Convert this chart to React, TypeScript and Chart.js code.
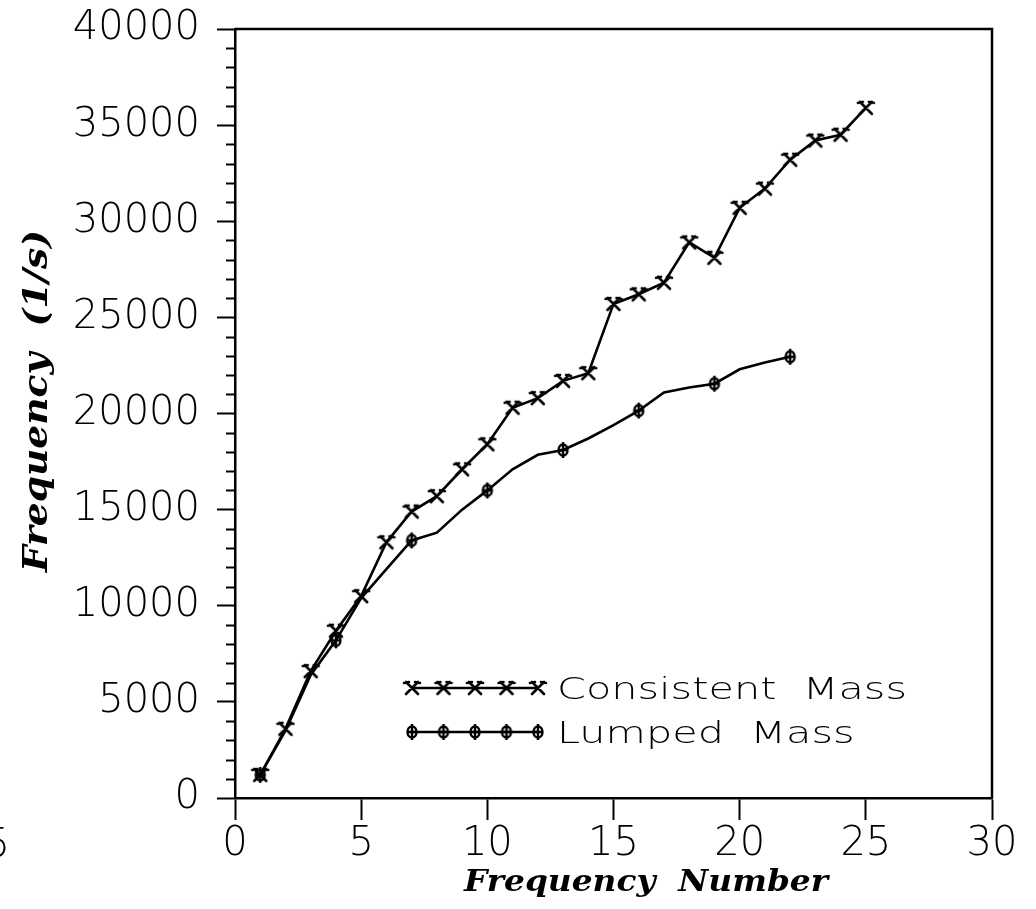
import React, { useEffect, useRef } from 'react';
import { Chart, registerables } from 'chart.js';

Chart.register(...registerables);

// ---- Data ----
const consistentNumbers = [1, 2, 3, 4, 5, 6, 7, 8, 9, 10, 11, 12, 13, 14, 15, 16, 17, 18, 19, 20, 21, 22, 23, 24, 25];
const consistentMass = [1200, 3600, 6600, 8700, 10500, 13300, 14900, 15700, 17100, 18400, 20300, 20800, 21700, 22100, 25700, 26200, 26800, 28900, 28100, 30700, 31700, 33200, 34200, 34500, 35900];

const lumpedNumbers = [1, 2, 3, 4, 5, 6, 7, 8, 9, 10, 11, 12, 13, 14, 15, 16, 17, 18, 19, 20, 21, 22];
const lumpedMass = [1200, 3500, 6400, 8200, 10400, 11900, 13400, 13800, 15000, 16000, 17100, 17850, 18100, 18700, 19400, 20150, 21100, 21350, 21550, 22300, 22650, 22950];
const lumpedMarkerStep = 3;

const seriesLabels = ['Consistent  Mass', 'Lumped  Mass'];
const xTitle = 'Frequency  Number';
const yTitle = 'Frequency  (1/s)';
const xMin = 0, xMax = 30, xStep = 5;
const yMin = 0, yMax = 40000, yStep = 5000, yMinorStep = 1000;
const strayLabel = '5';

const TICK_FONT = '"DejaVu Sans"';
const TITLE_FONT = '"DejaVu Serif"';

function makeCrossMarker(): HTMLCanvasElement {
  const c = document.createElement('canvas');
  c.width = 20; c.height = 20;
  const g = c.getContext('2d')!;
  g.strokeStyle = '#000';
  g.lineWidth = 2.6;
  g.lineCap = 'round';
  g.beginPath();
  g.moveTo(4, 4); g.lineTo(16, 16);
  g.moveTo(16, 4); g.lineTo(4, 16);
  g.moveTo(2, 5); g.lineTo(7, 4);
  g.moveTo(13, 4); g.lineTo(18, 5);
  g.stroke();
  return c;
}

function makeLumpedMarker(): HTMLCanvasElement {
  const c = document.createElement('canvas');
  c.width = 16; c.height = 18;
  const g = c.getContext('2d')!;
  g.strokeStyle = '#000';
  g.lineWidth = 2.4;
  g.beginPath();
  g.ellipse(8, 9, 4.5, 5.5, 0, 0, Math.PI * 2);
  g.stroke();
  g.beginPath();
  g.moveTo(8, 1); g.lineTo(8, 17);
  g.moveTo(3, 9); g.lineTo(13, 9);
  g.stroke();
  return c;
}

function drawStretched(ctx: CanvasRenderingContext2D, text: string, x: number, y: number, targetWidth: number, rotate: boolean) {
  const w = ctx.measureText(text).width;
  const sx = targetWidth / w;
  ctx.save();
  ctx.translate(x, y);
  if (rotate) ctx.rotate(-Math.PI / 2);
  ctx.scale(sx, 1);
  ctx.fillText(text, 0, 0);
  ctx.restore();
}

export default function App() {
  const ref = useRef<HTMLCanvasElement | null>(null);

  useEffect(() => {
    if (!ref.current) return;
    const crossImg = makeCrossMarker();
    const lumpImg = makeLumpedMarker();

    const decorations = {
      id: 'decorations',
      afterDraw(chart: any) {
        const { ctx, chartArea, scales } = chart;
        const ys = scales.y;
        ctx.save();
        ctx.strokeStyle = '#000';
        ctx.fillStyle = '#000';
        // minor y ticks
        ctx.lineWidth = 2;
        for (let v = yMin; v <= yMax; v += yMinorStep) {
          if (v % yStep === 0) continue;
          const py = Math.round(ys.getPixelForValue(v)) + 0.5;
          ctx.beginPath();
          ctx.moveTo(chartArea.left - 9, py);
          ctx.lineTo(chartArea.left, py);
          ctx.stroke();
        }
        // frame top and right
        ctx.lineWidth = 2.5;
        ctx.beginPath();
        ctx.moveTo(chartArea.left, chartArea.top);
        ctx.lineTo(chartArea.right, chartArea.top);
        ctx.lineTo(chartArea.right, chartArea.bottom);
        ctx.stroke();

        // legend
        const items = [
          { img: crossImg, y: 688, label: chart.data.datasets[0].label },
          { img: lumpImg, y: 732, label: chart.data.datasets[1].label },
        ];
        const lx0 = 412, lx1 = 538;
        ctx.font = `200 30px ${TICK_FONT}`;
        const legendScale = 350 / ctx.measureText(items[0].label).width;
        items.forEach((it) => {
          ctx.lineWidth = 2.5;
          ctx.beginPath();
          ctx.moveTo(lx0, it.y);
          ctx.lineTo(lx1, it.y);
          ctx.stroke();
          for (let i = 0; i < 5; i++) {
            const px = lx0 + ((lx1 - lx0) * i) / 4;
            ctx.drawImage(it.img, px - it.img.width / 2, it.y - it.img.height / 2);
          }
          ctx.font = `200 30px ${TICK_FONT}`;
          ctx.textAlign = 'left';
          ctx.textBaseline = 'alphabetic';
          drawStretched(ctx, it.label, 557, it.y + 11, ctx.measureText(it.label).width * legendScale, false);
        });

        // axis titles
        ctx.font = `italic bold 30px ${TITLE_FONT}`;
        ctx.textAlign = 'left';
        ctx.textBaseline = 'alphabetic';
        drawStretched(ctx, xTitle, 464, 891, 364, false);
        ctx.font = `italic bold 34px ${TITLE_FONT}`;
        drawStretched(ctx, yTitle, 47, 572, 342, true);

        // stray clipped label at left edge
        ctx.font = `200 40px ${TICK_FONT}`;
        ctx.textAlign = 'right';
        ctx.textBaseline = 'alphabetic';
        ctx.fillText(strayLabel, 10, 857);
        ctx.restore();
      },
    };

    const chart = new Chart(ref.current, {
      type: 'line',
      data: {
        datasets: [
          {
            label: seriesLabels[0],
            data: consistentNumbers.map((x, i) => ({ x, y: consistentMass[i] })),
            borderColor: '#000',
            borderWidth: 2.6,
            pointStyle: crossImg as any,
            pointRadius: 5,
            tension: 0,
          },
          {
            label: seriesLabels[1],
            data: lumpedNumbers.map((x, i) => ({ x, y: lumpedMass[i] })),
            borderColor: '#000',
            borderWidth: 2.6,
            pointStyle: lumpImg as any,
            pointRadius: lumpedNumbers.map((_, i) => (i % lumpedMarkerStep === 0 ? 5 : 0)),
            tension: 0,
          },
        ],
      },
      options: {
        animation: false,
        responsive: false,
        maintainAspectRatio: false,
        layout: { padding: { top: 29, right: 44, left: 0, bottom: 0 } },
        plugins: { legend: { display: false }, tooltip: { enabled: false } },
        scales: {
          x: {
            type: 'linear',
            min: xMin,
            max: xMax,
            afterFit: (s: any) => { s.height = 111; s.paddingLeft = 0; s.paddingRight = 0; },
            ticks: {
              stepSize: xStep,
              color: '#000',
              font: { family: TICK_FONT, size: 40, weight: '200' as any },
              padding: 1,
              maxRotation: 0,
            },
            grid: { drawOnChartArea: false, drawTicks: true, tickLength: 22, tickColor: '#000', tickWidth: 2 },
            border: { display: true, color: '#000', width: 2.5 },
            title: { display: false },
          },
          y: {
            type: 'linear',
            min: yMin,
            max: yMax,
            afterFit: (s: any) => { s.width = 235; s.paddingTop = 0; s.paddingBottom = 0; },
            ticks: {
              stepSize: yStep,
              color: '#000',
              font: { family: TICK_FONT, size: 40, weight: '200' as any },
              padding: 17,
              callback: (v: any) => String(v),
            },
            grid: { drawOnChartArea: false, drawTicks: true, tickLength: 18, tickColor: '#000', tickWidth: 2 },
            border: { display: true, color: '#000', width: 2.5 },
            title: { display: false },
          },
        },
      },
      plugins: [decorations],
    });
    return () => chart.destroy();
  }, []);

  return (
    <div style={{ position: 'absolute', left: 0, top: 0, width: 1036, height: 909, background: '#fff' }}>
      <canvas ref={ref} width={1036} height={909} style={{ display: 'block', width: 1036, height: 909 }} />
    </div>
  );
}
